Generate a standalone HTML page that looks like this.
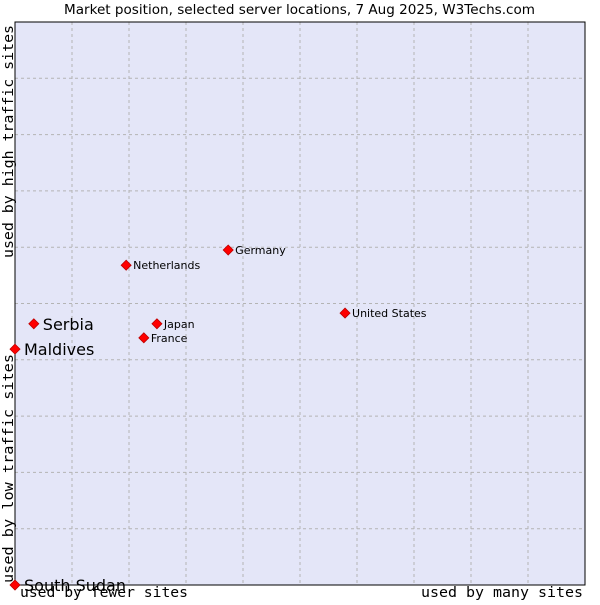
<!DOCTYPE html>
<html><head><meta charset="utf-8"><style>
body{margin:0;background:#fff;}
svg text{font-family:"DejaVu Sans","Liberation Sans",sans-serif;}
.mono{font-family:"DejaVu Sans Mono","Liberation Mono",monospace !important;font-size:14.5px;}
</style></head><body>
<svg id="c" width="600" height="600" xmlns="http://www.w3.org/2000/svg">
<text x="64" y="14" textLength="471" lengthAdjust="spacingAndGlyphs" font-size="13" fill="#000">Market position, selected server locations, 7 Aug 2025, W3Techs.com</text>
<rect x="15" y="22" width="570" height="563" fill="#e4e6f8"/>
<g id="grid"></g>
<rect x="15" y="22" width="570" height="563" fill="none" stroke="#000" stroke-width="1"/>
<text class="mono" x="20" y="597" textLength="168" lengthAdjust="spacingAndGlyphs">used by fewer sites</text>
<text class="mono" x="421" y="597" textLength="162" lengthAdjust="spacingAndGlyphs">used by many sites</text>
<text class="mono" transform="translate(13,583) rotate(-90)" textLength="229" lengthAdjust="spacingAndGlyphs">used by low traffic sites</text>
<text class="mono" transform="translate(13,258) rotate(-90)" textLength="233" lengthAdjust="spacingAndGlyphs">used by high traffic sites</text>
<g id="pts"></g>
</svg>
<script>
const names=["Serbia","Maldives","South Sudan","Netherlands","Germany","Japan","France","United States"];
const xs=[3.3,0,0,19.5,37.4,24.9,22.6,57.9];
const ys=[46.4,41.9,0,56.8,59.5,46.4,43.9,48.3];
const big=[true,true,true,false,false,false,false,false];
const X=v=>15+v*5.7, Y=v=>585-v*5.63;
const NS="http://www.w3.org/2000/svg";
const g=document.getElementById('grid');
for(let i=1;i<10;i++){
 let l=document.createElementNS(NS,'line');
 l.setAttribute('x1',X(i*10));l.setAttribute('x2',X(i*10));l.setAttribute('y1',22);l.setAttribute('y2',585);
 l.setAttribute('stroke','#b4b4b4');l.setAttribute('stroke-dasharray','3,3');
 
 
 g.appendChild(l);
 let h=document.createElementNS(NS,'line');
 h.setAttribute('y1',Y(i*10));h.setAttribute('y2',Y(i*10));h.setAttribute('x1',15);h.setAttribute('x2',585);
 h.setAttribute('stroke','#b4b4b4');h.setAttribute('stroke-dasharray','3,3');
 
 
 g.appendChild(h);
}
const p=document.getElementById('pts');
names.forEach((n,i)=>{
 const x=X(xs[i]),y=Y(ys[i]);
 const d=document.createElementNS(NS,'polygon');
 d.setAttribute('points',`${x},${y-5} ${x+5},${y} ${x},${y+5} ${x-5},${y}`);
 d.setAttribute('fill','#f00');d.setAttribute('stroke','#b00');d.setAttribute('stroke-width','0.8');
 
 
 p.appendChild(d);
 const t=document.createElementNS(NS,'text');
 t.setAttribute('x',x+(big[i]?9:7));t.setAttribute('y',y+(big[i]?6:4));
 t.setAttribute('font-size',big[i]?'16':'11');
 t.textContent=n;
 
 
 p.appendChild(t);
});
</script>
</body></html>
